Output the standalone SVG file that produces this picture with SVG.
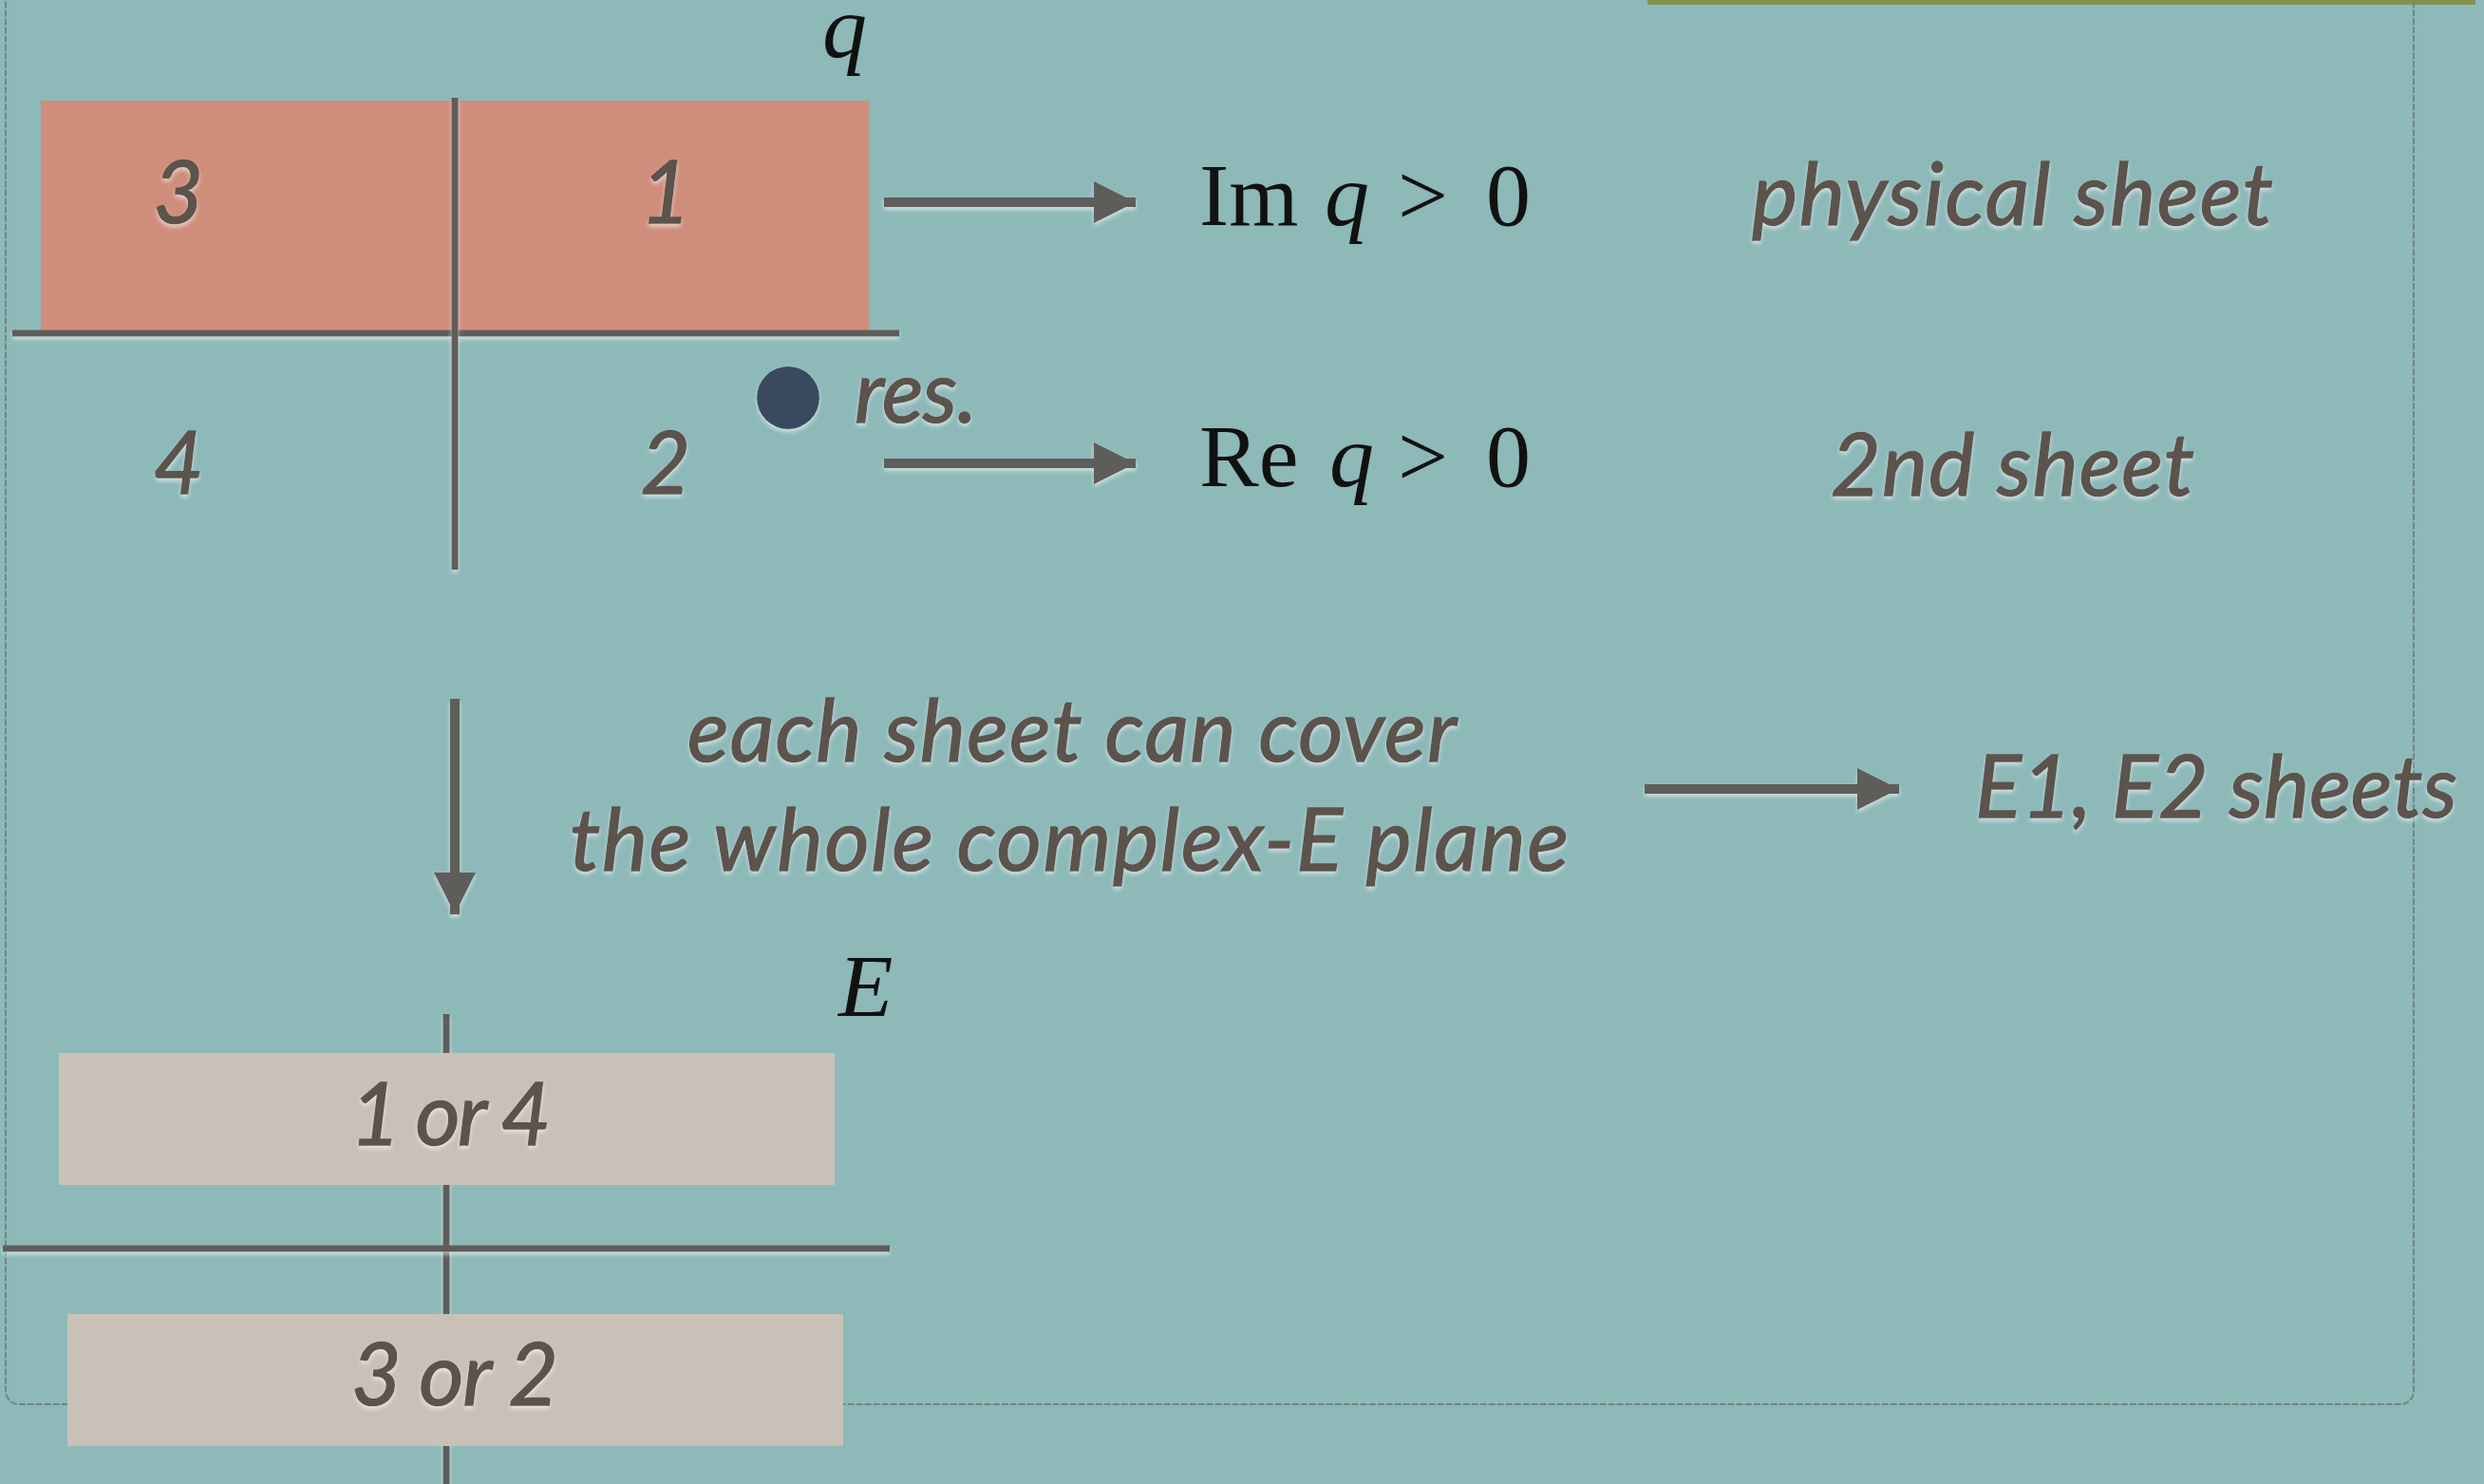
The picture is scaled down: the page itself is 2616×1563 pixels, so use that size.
<svg xmlns="http://www.w3.org/2000/svg" width="2616" height="1563" viewBox="0 0 2616 1563">
<defs>
<style>
.lbl{font-family:Lato,"Open Sans","Liberation Sans",sans-serif;font-style:italic;font-size:91px;fill:#5D524D;stroke:#5D524D;stroke-width:1.5;filter:url(#glow)}
.math{font-family:"Liberation Serif","DejaVu Serif",serif;font-size:94px;fill:#111}
.mi{font-style:italic}
.ax{stroke:#5F5D5A;stroke-width:7;fill:none;filter:url(#glow)}
.conn{stroke:#5F5D5A;stroke-width:10;fill:none;filter:url(#glow)}
</style>
<filter id="glow" filterUnits="userSpaceOnUse" x="0" y="0" width="2616" height="1563">
<feDropShadow dx="0" dy="3" stdDeviation="2" flood-color="#ffffff" flood-opacity="0.55"/>
</filter>
<marker id="ah" viewBox="0 0 10 10" refX="10" refY="5" markerWidth="4.4" markerHeight="4.4" markerUnits="strokeWidth" orient="auto">
<path d="M0,0 L10,5 L0,10 z" fill="#5F5D5A"/>
</marker>
</defs>
<rect width="2616" height="1563" fill="#8DB9B8"/>
<rect x="1735" y="0" width="872" height="5" fill="#84934F"/>
<rect x="6" y="-30" width="2536" height="1509" rx="14" fill="none" stroke="#6F8584" stroke-width="2" stroke-dasharray="7 2"/>

<g id="q-plane">
<rect x="43" y="106" width="872" height="242" fill="#CF8E7B"/>
<line class="ax" x1="13" y1="351" x2="947" y2="351"/>
<line class="ax" x1="479" y1="103" x2="479" y2="600"/>
<text class="math mi" x="866" y="60">q</text>
<text class="lbl" x="188" y="235" text-anchor="middle">3</text>
<text class="lbl" x="701" y="235" text-anchor="middle">1</text>
<text class="lbl" x="188" y="520" text-anchor="middle">4</text>
<text class="lbl" x="701" y="520" text-anchor="middle">2</text>
</g>

<g id="res">
<circle cx="830" cy="419" r="33" fill="#394861" filter="url(#glow)"/>
<text class="lbl" x="900" y="445" textLength="129">res.</text>
</g>

<g id="im-cond">
<text class="math" y="237"><tspan x="1263">Im</tspan><tspan class="mi" x="1395">q</tspan><tspan x="1472">&gt;</tspan><tspan x="1565">0</tspan></text>
</g>
<g id="re-cond">
<text class="math" y="512"><tspan x="1263">Re</tspan><tspan class="mi" x="1400">q</tspan><tspan x="1472">&gt;</tspan><tspan x="1565">0</tspan></text>
</g>
<g id="physical-sheet">
<text class="lbl" x="1845" y="237" textLength="549">physical sheet</text>
</g>
<g id="second-sheet">
<text class="lbl" x="1928" y="522" textLength="383">2nd sheet</text>
</g>
<g id="cover-text">
<text class="lbl" x="724" y="802" textLength="810">each sheet can cover</text>
<text class="lbl" x="600" y="917" textLength="1052">the whole complex-E plane</text>
</g>
<g id="e-sheets">
<text class="lbl" x="2080" y="861" textLength="508">E1, E2 sheets</text>
</g>

<g id="e-plane">
<line class="ax" x1="470" y1="1068" x2="470" y2="1563"/>
<line class="ax" x1="3" y1="1315" x2="937" y2="1315"/>
<text class="math mi" x="883" y="1070">E</text>
<rect x="62" y="1109" width="817" height="139" fill="#C9C1B8"/>
<rect x="71" y="1384" width="817" height="139" fill="#C9C1B8"/>
<text class="lbl" x="369" y="1206" textLength="211">1 or 4</text>
<text class="lbl" x="370" y="1480" textLength="218">3 or 2</text>
</g>

<g id="connectors">
<line class="conn" x1="931" y1="213" x2="1196" y2="213" marker-end="url(#ah)"/>
<line class="conn" x1="931" y1="488" x2="1196" y2="488" marker-end="url(#ah)"/>
<line class="conn" x1="479" y1="736" x2="479" y2="963" marker-end="url(#ah)"/>
<line class="conn" x1="1732" y1="831" x2="2000" y2="831" marker-end="url(#ah)"/>
</g>
</svg>
